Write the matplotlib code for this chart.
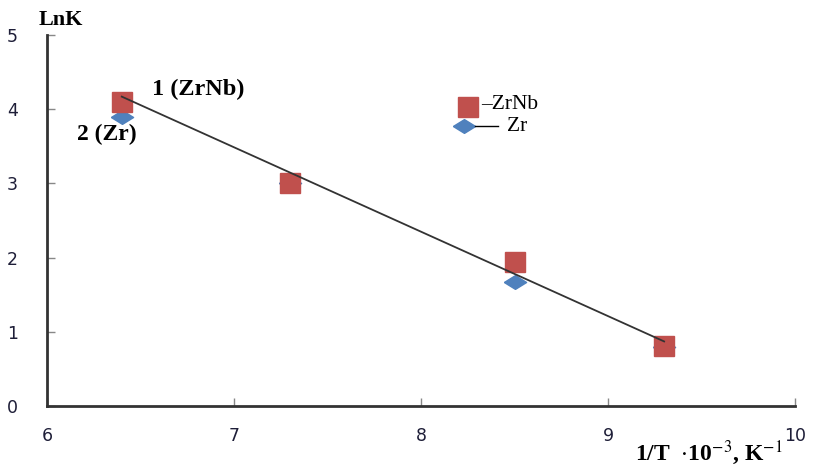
import matplotlib
matplotlib.use("Agg")
import matplotlib.pyplot as plt
import numpy as np

x_vals = [6.4, 7.3, 8.5, 9.3]
lnk_zrnb = [4.1, 3.01, 1.94, 0.81]
lnk_zr = [3.9, 3.0, 1.67, 0.8]
trend_x = [6.4, 9.3]
trend_y = [4.17, 0.87]
x_ticks = [6, 7, 8, 9, 10]
y_ticks = [0, 1, 2, 3, 4, 5]

fig = plt.figure(figsize=(8.14, 4.66), dpi=100)
ax = fig.add_axes([0.0577, 0.1288, 0.919, 0.796])

sq_color = '#c0504d'
di_color = '#4f81bd'
diamond = [(-1, 0), (0, 0.62), (1, 0), (0, -0.62), (-1, 0)]

ax.plot(x_vals, lnk_zr, linestyle='none', marker=diamond, markersize=16,
        color=di_color, markeredgecolor=di_color, zorder=3)
ax.plot(x_vals, lnk_zrnb, linestyle='none', marker='s', markersize=14,
        color=sq_color, markeredgecolor=sq_color, zorder=4)
ax.plot(trend_x, trend_y, color='#333333', linewidth=1.3, zorder=5)

ax.set_xlim(6, 10)
ax.set_ylim(0, 5)
ax.set_xticks(x_ticks)
ax.set_yticks(y_ticks)
for s in ['top', 'right']:
    ax.spines[s].set_visible(False)
for s in ['left', 'bottom']:
    ax.spines[s].set_linewidth(2.0)
    ax.spines[s].set_color('#333333')
ax.tick_params(axis='both', direction='in', length=6, width=1, color='#888888',
               labelsize=12.5, labelcolor='#1e1e38')
ax.tick_params(axis='y', pad=21)
ax.tick_params(axis='x', pad=15)

serif = ['Liberation Serif', 'DejaVu Serif']
fig.text(0.047, 0.958, 'LnK', fontsize=16, fontweight='bold', family=serif,
         ha='left', va='center')
fig.text(0.962, 0.028, r'1/T  $\cdot$10$^{-3}$, K$^{-1}$', fontsize=17,
         fontweight='bold', family=serif, ha='right', va='center',
         math_fontfamily='stix')
ax.text(6.56, 4.27, '1 (ZrNb)', fontsize=17.5, fontweight='bold', family=serif,
        ha='left', va='center')
ax.text(6.16, 3.66, '2 (Zr)', fontsize=17, fontweight='bold', family=serif,
        ha='left', va='center')

# legend
lx, ly1, ly2 = 8.25, 4.03, 3.77
ax.plot([lx], [ly1], marker='s', markersize=14, color=sq_color, linestyle='none')
ax.text(lx + 0.07, ly1 + 0.03, '\u2013ZrNb', fontsize=15.5, family=serif, ha='left', va='center')
ax.plot([lx - 0.02], [ly2], marker=diamond, markersize=16, color=di_color, linestyle='none')
ax.plot([lx + 0.04, lx + 0.16], [ly2, ly2], color='black', lw=1)
ax.text(lx + 0.21, ly2, 'Zr', fontsize=15.5, family=serif, ha='left', va='center')

fig.savefig('out.png', dpi=100)
